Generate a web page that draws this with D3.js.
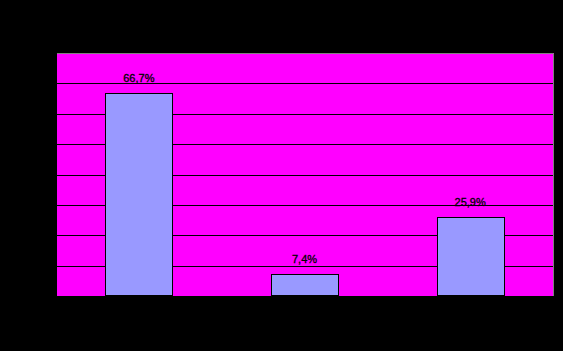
<!DOCTYPE html>
<html>
<head>
<meta charset="utf-8">
<script src="https://cdn.jsdelivr.net/npm/d3@7"></script>
<style>
  html, body { margin: 0; padding: 0; background: #000; }
  svg { display: block; }
</style>
</head>
<body>
<svg id="chart"></svg>
<script>
var categories = ['1', '2', '3'];
var values = [0.667, 0.074, 0.259];
var valueLabels = ['66,7%', '7,4%', '25,9%'];
var yTicks = [0, 0.1, 0.2, 0.3, 0.4, 0.5, 0.6, 0.7, 0.8];

var width = 563, height = 351;
var margin = {top: 53, left: 57, right: 9, bottom: 55};

var svg = d3.select('#chart')
    .attr('width', width)
    .attr('height', height);

svg.append('rect')
    .attr('width', width).attr('height', height)
    .attr('fill', '#000');

var x = d3.scaleBand()
    .domain(categories)
    .range([margin.left, width - margin.right])
    .paddingInner(0.5956)
    .paddingOuter(0.2978);

var y = d3.scaleLinear()
    .domain([0, 0.8])
    .range([height - margin.bottom, margin.top]);

// plot area
svg.append('rect')
    .attr('x', margin.left)
    .attr('y', margin.top)
    .attr('width', width - margin.right - margin.left)
    .attr('height', y(0) - margin.top)
    .attr('fill', '#ff00ff');

// gridlines
svg.append('g')
    .selectAll('line')
    .data(yTicks.filter(function(d){ return d > 0 && d < 0.8; }))
    .enter().append('line')
        .attr('x1', margin.left)
        .attr('x2', width - margin.right)
        .attr('y1', function(d){ return Math.round(y(d)) + 0.5; })
        .attr('y2', function(d){ return Math.round(y(d)) + 0.5; })
        .attr('stroke', '#000')
        .attr('stroke-width', 1);

// plot border (top / right)
svg.append('path')
    .attr('d', 'M' + margin.left + ',' + (margin.top + 0.5) +
               'H' + (width - margin.right - 0.5) +
               'V' + y(0))
    .attr('fill', 'none')
    .attr('stroke', '#808080')
    .attr('stroke-width', 1);

// bars
svg.append('g')
    .selectAll('rect')
    .data(values)
    .enter().append('rect')
        .attr('x', function(d, i){ return Math.round(x(categories[i])) - 0.5; })
        .attr('y', function(d){ return Math.round(y(d)) + 0.5; })
        .attr('width', Math.round(x.bandwidth()))
        .attr('height', function(d){ return y(0) - Math.round(y(d)) - 1; })
        .attr('fill', '#9999ff')
        .attr('stroke', '#000')
        .attr('stroke-width', 1);

// value labels
svg.append('g')
    .selectAll('text')
    .data(values)
    .enter().append('text')
        .attr('x', function(d, i){ return x(categories[i]) + x.bandwidth() / 2 - 1; })
        .attr('y', function(d){ return y(d) - 11; })
        .attr('text-anchor', 'middle')
        .style('font-family', 'Liberation Sans, Arial, sans-serif')
        .style('font-size', '11px')
        .style('fill', '#000')
        .style('stroke', '#000')
        .style('stroke-width', 0.3)
        .text(function(d, i){ return valueLabels[i]; });
</script>
</body>
</html>
